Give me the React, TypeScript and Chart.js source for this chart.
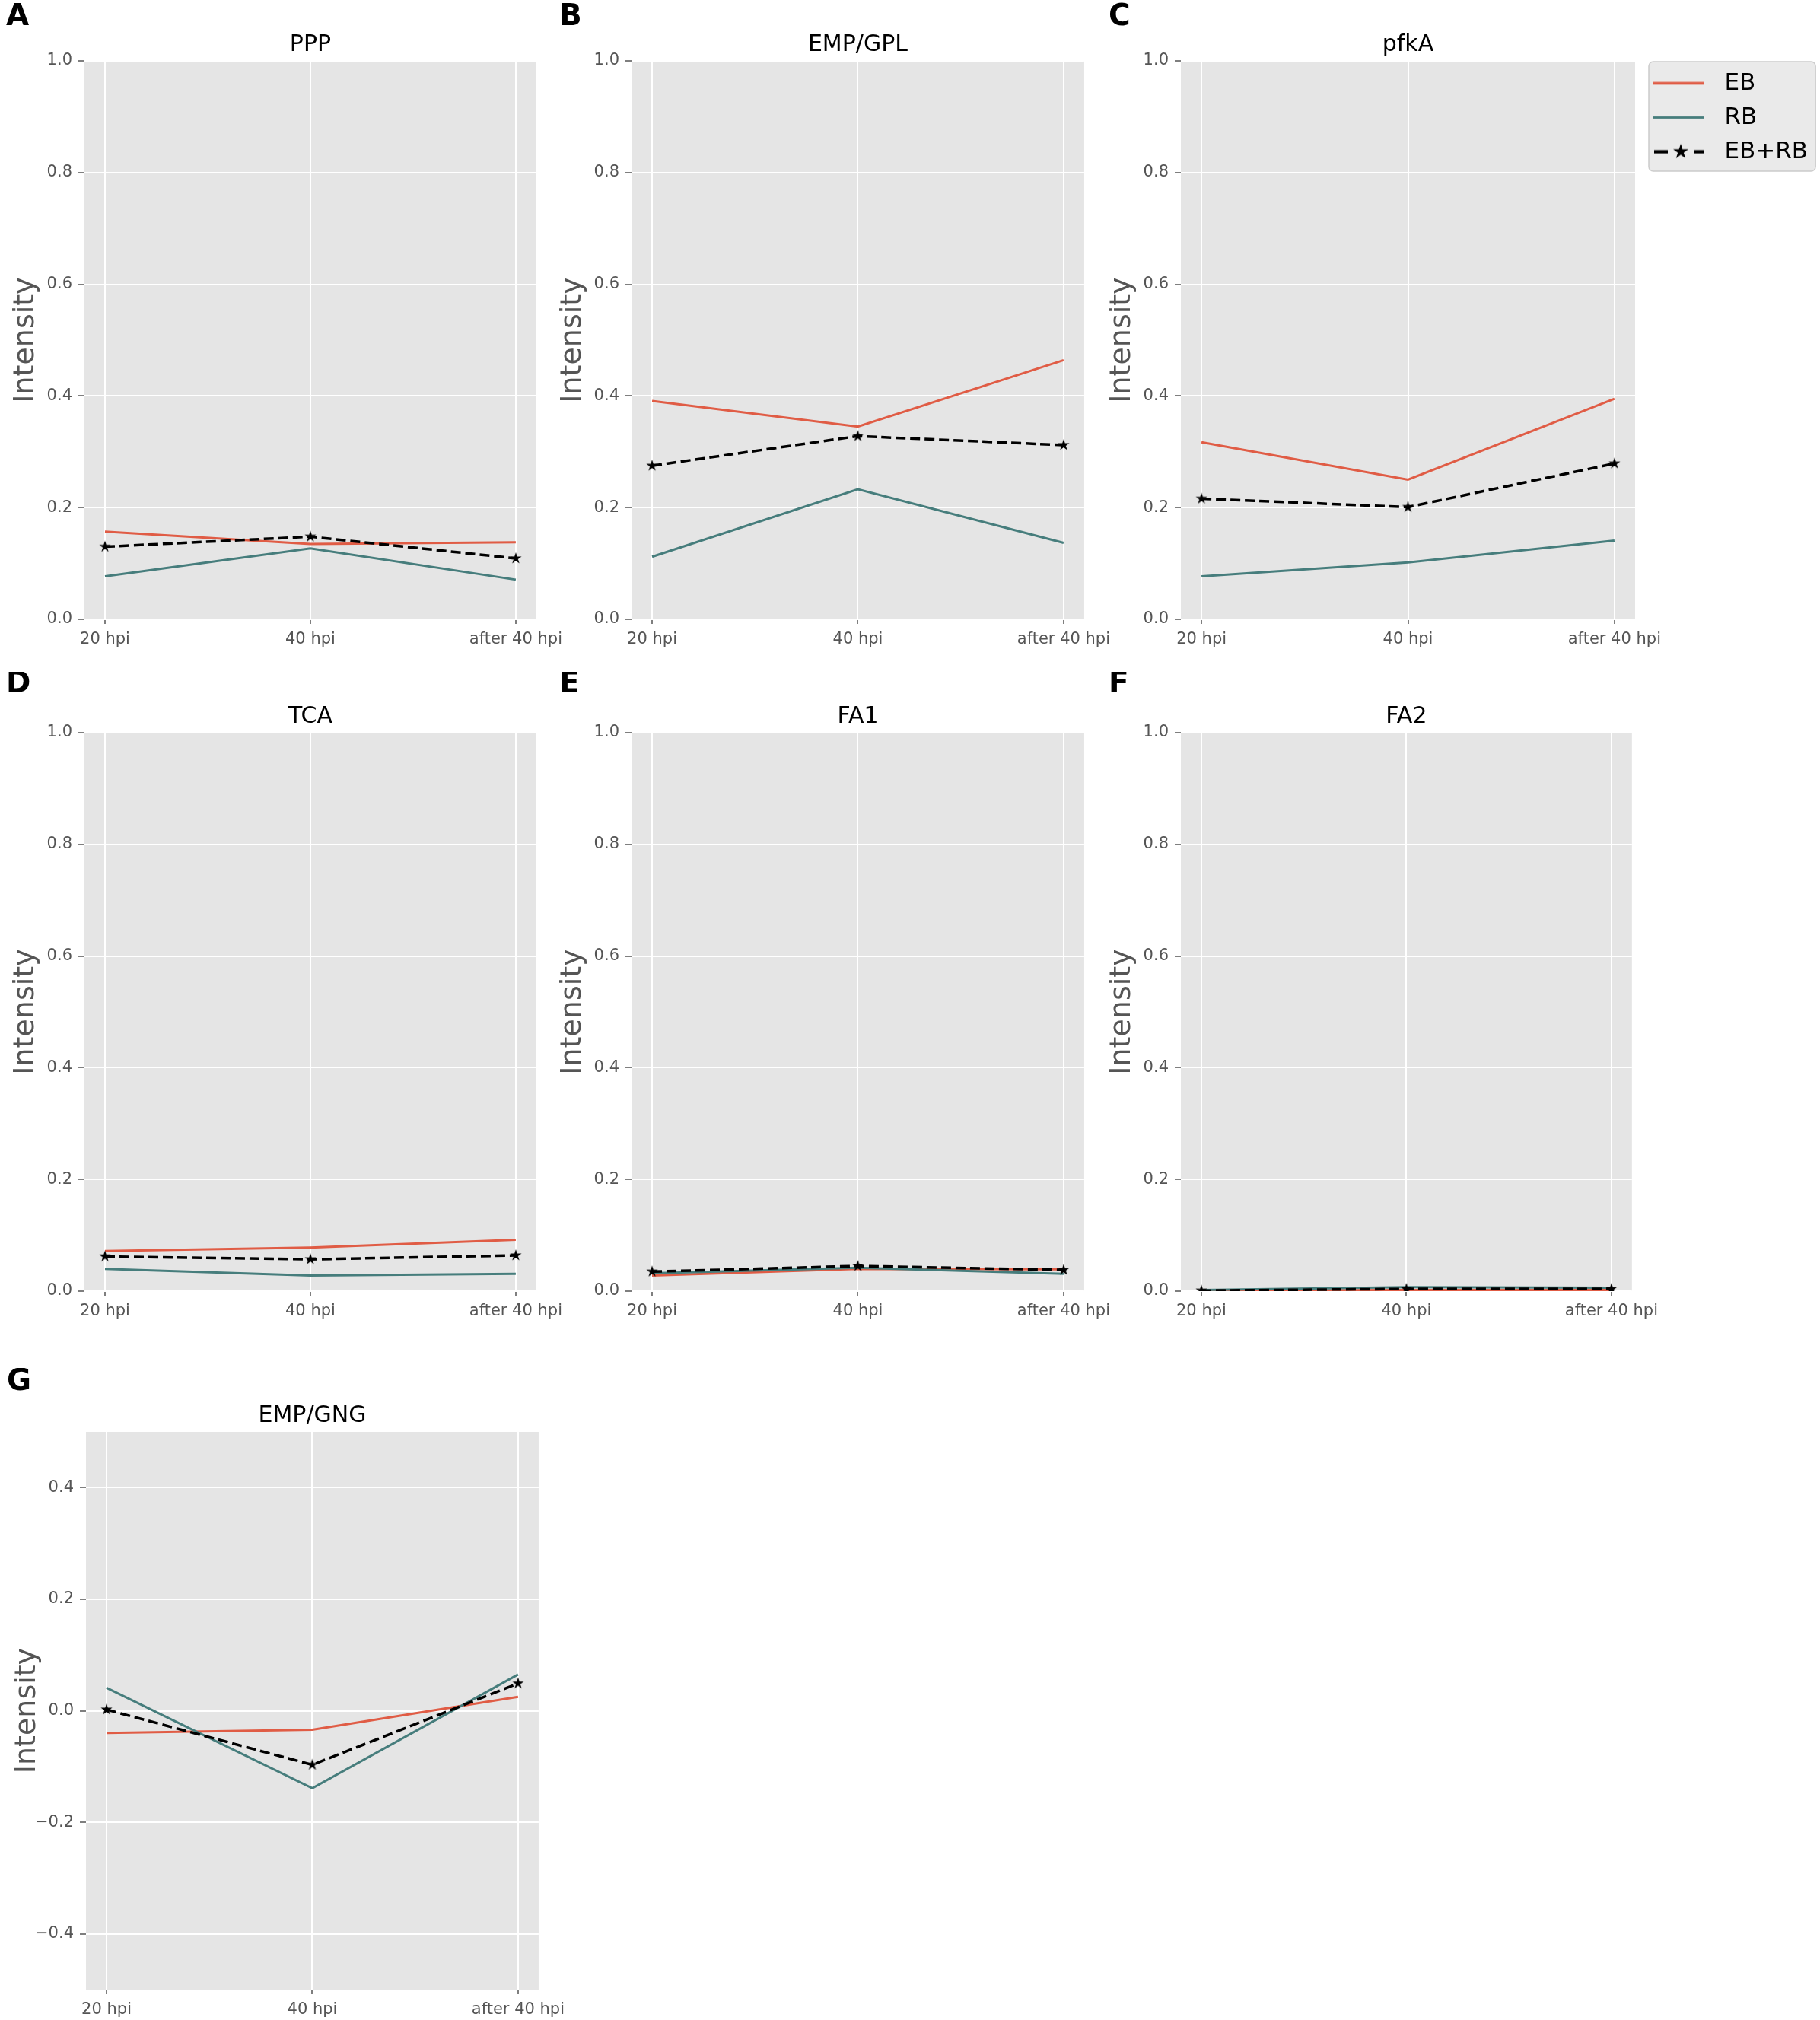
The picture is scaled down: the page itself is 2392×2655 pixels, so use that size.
import { useEffect, useRef } from "react";
import { Chart, registerables } from "chart.js";

Chart.register(...registerables);
Chart.defaults.font.family = "'DejaVu Sans'";

const timePoints = ["20 hpi", "40 hpi", "after 40 hpi"];
const seriesLabels = ["EB", "RB", "EB+RB"];

const unitTicks = [0, 0.2, 0.4, 0.6, 0.8, 1.0];
const unitRange = [0, 1];
const gngTicks = [-0.4, -0.2, 0, 0.2, 0.4];
const gngRange = [-0.5, 0.5];

// PPP
const pppEB = [0.157, 0.135, 0.138];
const pppRB = [0.077, 0.127, 0.071];
const pppAll = [0.13, 0.148, 0.109];
// EMP/GPL
const gplEB = [0.391, 0.345, 0.464];
const gplRB = [0.112, 0.233, 0.137];
const gplAll = [0.275, 0.328, 0.312];
// pfkA
const pfkEB = [0.317, 0.25, 0.395];
const pfkRB = [0.077, 0.102, 0.141];
const pfkAll = [0.216, 0.201, 0.279];
// TCA
const tcaEB = [0.072, 0.078, 0.092];
const tcaRB = [0.04, 0.028, 0.031];
const tcaAll = [0.062, 0.057, 0.064];
// FA1
const fa1EB = [0.028, 0.04, 0.039];
const fa1RB = [0.032, 0.042, 0.031];
const fa1All = [0.035, 0.045, 0.038];
// FA2
const fa2EB = [0.001, 0.002, 0.002];
const fa2RB = [0.002, 0.007, 0.006];
const fa2All = [0.001, 0.004, 0.004];
// EMP/GNG
const gngEB = [-0.04, -0.034, 0.025];
const gngRB = [0.041, -0.139, 0.065];
const gngAll = [0.002, -0.097, 0.049];

type PanelSpec = {
  letter: string;
  title: string;
  eb: number[];
  rb: number[];
  all: number[];
  ticks: number[];
  range: number[];
  legend?: boolean;
};

const panels: PanelSpec[] = [
  { letter: "A", title: "PPP", eb: pppEB, rb: pppRB, all: pppAll, ticks: unitTicks, range: unitRange },
  { letter: "B", title: "EMP/GPL", eb: gplEB, rb: gplRB, all: gplAll, ticks: unitTicks, range: unitRange },
  { letter: "C", title: "pfkA", eb: pfkEB, rb: pfkRB, all: pfkAll, ticks: unitTicks, range: unitRange, legend: true },
  { letter: "D", title: "TCA", eb: tcaEB, rb: tcaRB, all: tcaAll, ticks: unitTicks, range: unitRange },
  { letter: "E", title: "FA1", eb: fa1EB, rb: fa1RB, all: fa1All, ticks: unitTicks, range: unitRange },
  { letter: "F", title: "FA2", eb: fa2EB, rb: fa2RB, all: fa2All, ticks: unitTicks, range: unitRange },
  { letter: "G", title: "EMP/GNG", eb: gngEB, rb: gngRB, all: gngAll, ticks: gngTicks, range: gngRange },
];

// plot rectangles on the page, plus where the panel letter sits
type Frame = { x: number; y: number; w: number; h: number; head: number; axisW: number; lx: number; ly: number };
const frames: Frame[] = [
  { x: 111, y: 80, w: 598, h: 734, head: 80, axisW: 111, lx: 8, ly: 33 },
  { x: 830, y: 80, w: 599, h: 734, head: 80, axisW: 111, lx: 735, ly: 33 },
  { x: 1552, y: 80, w: 597, h: 734, head: 80, axisW: 141, lx: 1457, ly: 33 },
  { x: 111, y: 963, w: 598, h: 734, head: 80, axisW: 111, lx: 8, ly: 910 },
  { x: 830, y: 963, w: 599, h: 734, head: 80, axisW: 111, lx: 735, ly: 910 },
  { x: 1552, y: 963, w: 597, h: 734, head: 80, axisW: 111, lx: 1457, ly: 910 },
  { x: 113, y: 1882, w: 599, h: 733, head: 84, axisW: 111, lx: 9, ly: 1827 },
];

const PAGE_W = 2392;
const PAGE_H = 2655;
const X_AXIS_H = 55;
const RIGHT_GAP = 40;

const EB_COLOR = "#E05C45";
const RB_COLOR = "#467D7C";
const GRID = "#ffffff";
const PANEL_BG = "#E5E5E5";
const TICK_COLOR = "#555555";

const LEGEND_FONT = 31;
const LEGEND_PAD = 14;
const SWATCH_W = 88;

const fmtTick = (v: number) => (v < 0 ? "\u2212" : "") + Math.abs(v).toFixed(1);

function drawStar(ctx: CanvasRenderingContext2D, cx: number, cy: number, r: number) {
  ctx.beginPath();
  for (let i = 0; i < 10; i++) {
    const rad = i % 2 === 0 ? r : r * 0.382;
    const a = -Math.PI / 2 + (i * Math.PI) / 5;
    ctx.lineTo(cx + rad * Math.cos(a), cy + rad * Math.sin(a));
  }
  ctx.closePath();
  ctx.fillStyle = "#000";
  ctx.fill();
}

function starImage(r: number) {
  const c = document.createElement("canvas");
  const size = Math.ceil(r * 2 + 2);
  c.width = size;
  c.height = size;
  drawStar(c.getContext("2d")!, size / 2, size / 2, r);
  return c;
}

function legendSwatch(color: string, dashed: boolean) {
  const c = document.createElement("canvas");
  c.width = 84;
  c.height = 26;
  const ctx = c.getContext("2d")!;
  ctx.strokeStyle = color;
  ctx.lineWidth = dashed ? 4.5 : 3.5;
  ctx.beginPath();
  if (dashed) {
    ctx.moveTo(9, 13);
    ctx.lineTo(27, 13);
    ctx.moveTo(62, 13);
    ctx.lineTo(74, 13);
  } else {
    ctx.moveTo(8, 13);
    ctx.lineTo(74, 13);
  }
  ctx.stroke();
  if (dashed) drawStar(ctx, 44, 13, 10.5);
  return c;
}

function legendWidth() {
  const ctx = document.createElement("canvas").getContext("2d")!;
  ctx.font = `${LEGEND_FONT}px 'DejaVu Sans'`;
  const textW = Math.max(...seriesLabels.map((t) => ctx.measureText(t).width));
  return LEGEND_PAD + SWATCH_W + LEGEND_FONT / 2 + textW + 10;
}

const plotBackground = {
  id: "plotBackground",
  beforeDraw(chart: any) {
    const { ctx, chartArea } = chart;
    ctx.save();
    ctx.fillStyle = PANEL_BG;
    ctx.fillRect(chartArea.left, chartArea.top, chartArea.width, chartArea.height);
    ctx.restore();
  },
};

const panelLetter = {
  id: "panelLetter",
  afterDraw(chart: any, _args: any, opts: any) {
    const { ctx } = chart;
    ctx.save();
    ctx.font = "bold 39px 'DejaVu Sans'";
    ctx.fillStyle = "#000";
    ctx.textBaseline = "alphabetic";
    ctx.fillText(opts.text, opts.x, opts.y);
    ctx.restore();
  },
};

const legendFrame = {
  id: "legendFrame",
  beforeDraw(chart: any) {
    const legend = chart.legend;
    if (!legend || !legend.options.display || !legend.legendHitBoxes?.length) return;
    const boxes = legend.legendHitBoxes;
    const left = Math.min(...boxes.map((b: any) => b.left)) + 4;
    const right = Math.max(...boxes.map((b: any) => b.left + b.width)) + 10;
    const top = boxes[0].top - 13;
    const last = boxes[boxes.length - 1];
    const bottom = last.top + last.height + 10;
    const { ctx } = chart;
    ctx.save();
    ctx.beginPath();
    ctx.roundRect(left, top, right - left, bottom - top, 6);
    ctx.fillStyle = "rgba(229,229,229,0.8)";
    ctx.fill();
    ctx.strokeStyle = "#cccccc";
    ctx.lineWidth = 1.5;
    ctx.stroke();
    ctx.restore();
  },
};

function canvasBox(spec: PanelSpec, f: Frame) {
  const left = f.x - f.axisW;
  const top = f.y - f.head;
  const width = spec.legend ? PAGE_W - left : f.axisW + f.w + RIGHT_GAP;
  const height = f.head + f.h + X_AXIS_H;
  return { left, top, width, height };
}

function buildConfig(spec: PanelSpec, f: Frame, box: { left: number; top: number; width: number; height: number }) {
  const star = starImage(8);
  const padRight = spec.legend ? box.width - (f.axisW + f.w) - legendWidth() : RIGHT_GAP;
  const swatches = [legendSwatch(EB_COLOR, false), legendSwatch(RB_COLOR, false), legendSwatch("#000", true)];
  const toPoints = (vals: number[]) => vals.map((y, i) => ({ x: i, y }));

  return {
    type: "line" as const,
    data: {
      datasets: [
        {
          label: seriesLabels[0],
          data: toPoints(spec.eb),
          borderColor: EB_COLOR,
          backgroundColor: EB_COLOR,
          borderWidth: 3,
          pointRadius: 0,
          order: 3,
        },
        {
          label: seriesLabels[1],
          data: toPoints(spec.rb),
          borderColor: RB_COLOR,
          backgroundColor: RB_COLOR,
          borderWidth: 3,
          pointRadius: 0,
          order: 2,
        },
        {
          label: seriesLabels[2],
          data: toPoints(spec.all),
          borderColor: "#000",
          backgroundColor: "#000",
          borderWidth: 3.5,
          borderDash: [13, 6],
          pointStyle: star,
          pointRadius: 8,
          order: 1,
        },
      ],
    },
    options: {
      animation: false as const,
      responsive: false,
      events: [],
      layout: { padding: { left: 0, top: 0, bottom: 0, right: padRight } },
      scales: {
        x: {
          type: "linear" as const,
          min: -0.1,
          max: 2.1,
          afterBuildTicks: (s: any) => {
            s.ticks = timePoints.map((_, i) => ({ value: i }));
          },
          afterFit: (s: any) => {
            s.height = X_AXIS_H;
          },
          ticks: {
            callback: (v: any) => timePoints[v],
            font: { size: 21 },
            color: TICK_COLOR,
            padding: 8,
            maxRotation: 0,
            autoSkip: false,
          },
          grid: { color: GRID, lineWidth: 2, tickColor: TICK_COLOR, tickLength: 6, tickWidth: 1.5 },
          border: { display: false },
        },
        y: {
          min: spec.range[0],
          max: spec.range[1],
          afterBuildTicks: (s: any) => {
            s.ticks = spec.ticks.map((v) => ({ value: v }));
          },
          afterFit: (s: any) => {
            s.width = f.axisW;
          },
          ticks: {
            callback: (v: any) => fmtTick(Number(v)),
            font: { size: 21 },
            color: TICK_COLOR,
            padding: 8,
          },
          title: {
            display: true,
            text: "Intensity",
            font: { size: 38 },
            color: TICK_COLOR,
            padding: { top: f.axisW - 100, bottom: 0 },
          },
          grid: { color: GRID, lineWidth: 2, tickColor: TICK_COLOR, tickLength: 8, tickWidth: 1.5 },
          border: { display: false },
        },
      },
      plugins: {
        title: {
          display: true,
          text: spec.title,
          fullSize: false,
          color: "#000",
          font: { size: 30, weight: "normal" as const, lineHeight: "35px" },
          padding: { top: f.head - 38, bottom: 3 },
        },
        legend: {
          display: !!spec.legend,
          position: "right" as const,
          align: "start" as const,
          fullSize: false,
          labels: {
            usePointStyle: true,
            pointStyleWidth: SWATCH_W,
            boxHeight: LEGEND_FONT,
            padding: LEGEND_PAD,
            color: "#000",
            font: { size: LEGEND_FONT },
            sort: (a: any, b: any) => a.datasetIndex - b.datasetIndex,
            generateLabels: (chart: any) =>
              Chart.defaults.plugins.legend.labels
                .generateLabels(chart)
                .map((item: any) => ({ ...item, pointStyle: swatches[item.datasetIndex] })),
          },
        },
        tooltip: { enabled: false },
        panelLetter: { text: spec.letter, x: f.lx - box.left, y: f.ly - box.top },
      },
    },
    plugins: [plotBackground, legendFrame, panelLetter],
  };
}

function Panel({ spec, frame }: { spec: PanelSpec; frame: Frame }) {
  const canvasRef = useRef<HTMLCanvasElement | null>(null);
  const box = canvasBox(spec, frame);

  useEffect(() => {
    if (!canvasRef.current) return;
    const chart = new Chart(canvasRef.current, buildConfig(spec, frame, box) as any);
    return () => {
      chart.destroy();
    };
  }, [spec, frame]);

  return (
    <canvas
      ref={canvasRef}
      width={box.width}
      height={box.height}
      style={{ position: "absolute", left: box.left, top: box.top, width: box.width, height: box.height }}
    />
  );
}

export default function App() {
  return (
    <div style={{ position: "absolute", left: 0, top: 0, width: PAGE_W, height: PAGE_H, background: "#fff" }}>
      {panels.map((p, i) => (
        <Panel key={p.letter} spec={p} frame={frames[i]} />
      ))}
    </div>
  );
}
